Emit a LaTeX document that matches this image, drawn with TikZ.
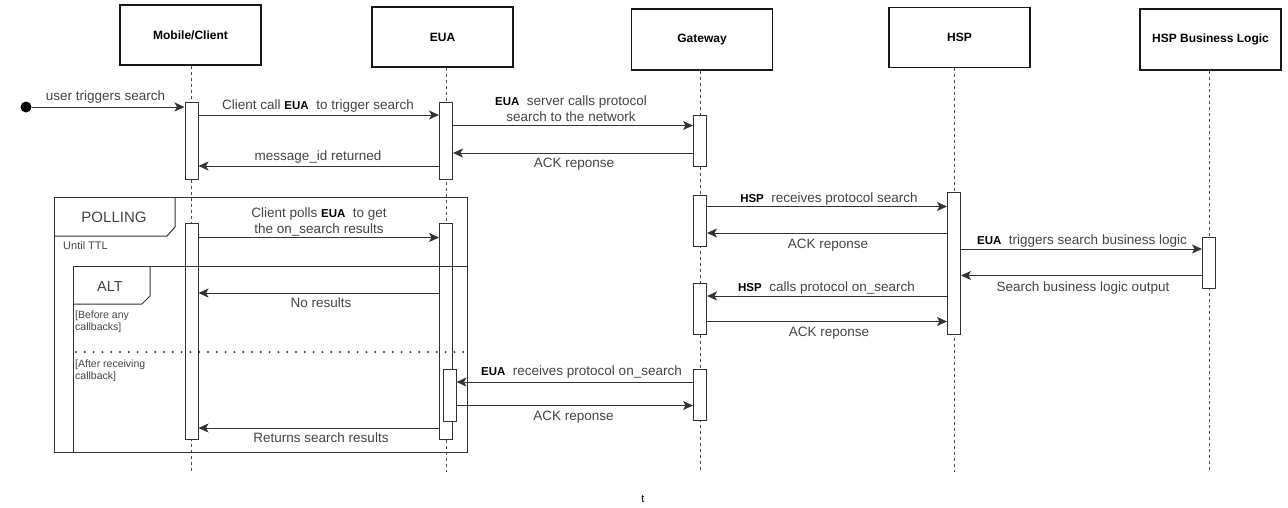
\documentclass[tikz,border=0pt]{standalone}
\usepackage{fontspec}
\setmainfont{Liberation Sans}
\usetikzlibrary{arrows.meta}
\definecolor{ln}{HTML}{333333}
\definecolor{tx}{HTML}{444444}
\tikzset{
 head/.style={draw=black!90, line width=1.8pt, fill=white, minimum width=141pt, minimum height=60pt, inner sep=0, font=\fontsize{12}{14}\selectfont\bfseries},
 life/.style={draw=black!70, dash pattern=on 3pt off 3pt, line width=1pt},
 bar/.style={draw=ln, fill=white, line width=1pt, minimum width=13pt, inner sep=0},
 msg/.style={draw=ln, line width=1pt, -{Stealth[length=10pt,width=9pt,inset=2.5pt]}},
 lbl/.style={text=tx, font=\fontsize{13.5}{15}\selectfont, inner sep=0, anchor=mid, yshift=-2.5pt},
 frame/.style={draw=ln, line width=1pt},
 small/.style={text=tx, font=\fontsize{10.5}{12}\selectfont, inner sep=0, anchor=mid west, yshift=-2pt},
}
\newcommand{\bk}[1]{{\color{black}\fontsize{11.5}{12}\selectfont\bfseries #1}}
\begin{document}
\begin{tikzpicture}[x=1pt,y=-1pt]
\useasboundingbox (0,0) rectangle (1288,507);
% headers
\node[head] (mc) at (190.5,35) {Mobile/Client};
\node[head] (eua) at (442.5,37) {EUA};
\node[head, minimum height=61pt] (gw) at (702,39.5) {Gateway};
\node[head] (hsp) at (959.5,37.5) {HSP};
\node[head, minimum height=61pt] (bl) at (1210.5,39.5) {HSP Business Logic};
% lifelines
\draw[life] (mc.south -| 191.5,0) -- (191.5,472);
\draw[life] (eua.south -| 446,0) -- (446,472);
\draw[life] (gw.south -| 700,0) -- (700,472);
\draw[life] (hsp.south -| 954,0) -- (954,472);
\draw[life] (bl.south -| 1209,0) -- (1209,472);
% activation bars
\node[bar, minimum height=77pt] (cb1) at (191.5,140.5) {};
\node[bar, minimum height=77pt] (eb1) at (446,140.5) {};
\node[bar, minimum height=51pt] (gb1) at (700,140.5) {};
\node[bar, minimum height=216pt] (cb2) at (191.5,331) {};
\node[bar, minimum height=216pt] (eb2) at (446,331) {};
\node[bar, minimum height=52pt] (eb3) at (449.5,395) {};
\node[bar, minimum height=51pt] (gb2) at (700,220.5) {};
\node[bar, minimum height=142pt] (hb1) at (954,263) {};
\node[bar, minimum height=51pt] (bb1) at (1209,262.5) {};
\node[bar, minimum height=51pt] (gb3) at (700,308.5) {};
\node[bar, minimum height=51pt] (gb4) at (700,394.5) {};
% start dot
\node[circle, fill=black, inner sep=0, minimum size=11pt] (start) at (26,107) {};
% messages
\draw[msg] (start) -- (cb1.west |- 0,107);
\draw[msg] (cb1.east |- 0,115) -- (eb1.west |- 0,115);
\draw[msg] (eb1.east |- 0,125.5) -- (gb1.west |- 0,125.5);
\draw[msg] (gb1.west |- 0,153) -- (eb1.east |- 0,153);
\draw[msg] (eb1.west |- 0,166) -- (cb1.east |- 0,166);
\draw[msg] (cb2.east |- 0,237.5) -- (eb2.west |- 0,237.5);
\draw[msg] (eb2.west |- 0,293) -- (cb2.east |- 0,293);
\draw[msg] (eb2.west |- 0,428) -- (cb2.east |- 0,428);
\draw[msg] (gb2.east |- 0,206.5) -- (hb1.west |- 0,206.5);
\draw[msg] (hb1.west |- 0,233) -- (gb2.east |- 0,233);
\draw[msg] (hb1.east |- 0,249) -- (bb1.west |- 0,249);
\draw[msg] (bb1.west |- 0,275.5) -- (hb1.east |- 0,275.5);
\draw[msg] (hb1.west |- 0,296) -- (gb3.east |- 0,296);
\draw[msg] (gb3.east |- 0,321.5) -- (hb1.west |- 0,321.5);
\draw[msg] (gb4.west |- 0,382) -- (eb3.east |- 0,382);
\draw[msg] (eb3.east |- 0,405.5) -- (gb4.west |- 0,405.5);
% labels
\node[lbl] (l1) at (105.5,95) {user triggers search};
\node[lbl] (l2) at (318,104) {Client call \bk{EUA}~ to trigger search};
\node[lbl] (l3a) at (571,100) {\bk{EUA}~ server calls protocol};
\node[lbl] (l3b) at (571,116) {search to the network};
\node[lbl] (l4) at (574,162) {ACK reponse};
\node[lbl] (l5) at (318,155) {message\_id returned};
\node[lbl] (l6a) at (319,212) {Client polls \bk{EUA}~ to get};
\node[lbl] (l6b) at (319,228) {the on\_search results};
\node[lbl] (l7) at (321,302) {No results};
\node[lbl] (l8) at (321,437) {Returns search results};
\node[lbl] (l9) at (829,197) {\bk{HSP}~ receives protocol search};
\node[lbl] (l10) at (828,243) {ACK reponse};
\node[lbl] (l11) at (1082,239) {\bk{EUA}~ triggers search business logic};
\node[lbl] (l12) at (1083,286) {Search business logic output};
\node[lbl] (l13) at (826.5,286) {\bk{HSP}~ calls protocol on\_search};
\node[lbl] (l14) at (829,331) {ACK reponse};
\node[lbl] (l15) at (581.5,370) {\bk{EUA}~ receives protocol on\_search};
\node[lbl] (l16) at (573.5,415) {ACK reponse};
% frames
\draw[frame] (54,197) rectangle (467,452);
\draw[frame] (54,236) -- (167,236) -- (175,227) -- (175,197);
\node[lbl, font=\fontsize{15}{16}\selectfont] (poll) at (114,217) {POLLING};
\node[small, font=\fontsize{11}{12}\selectfont] (ttl) at (63,245) {Until TTL};
\draw[frame] (73,452) -- (73,266) -- (467,266);
\draw[frame] (73,304) -- (142,304) -- (150,296) -- (150,266);
\node[lbl, font=\fontsize{14.5}{16}\selectfont] (alt) at (110,286) {ALT};
\node[small] (c1a) at (75,314) {[Before any};
\node[small] (c1b) at (75,326) {callbacks]};
\draw[ln, line width=2.2pt, line cap=round, dash pattern=on 0pt off 8.8pt] (76,352) -- (467,352);
\node[small] (c2a) at (75,363) {[After receiving};
\node[small] (c2b) at (75,375) {callback]};
\node[inner sep=0, font=\fontsize{11}{12}\selectfont, anchor=mid, yshift=-2pt] (t) at (643,498) {t};
\end{tikzpicture}
\end{document}
